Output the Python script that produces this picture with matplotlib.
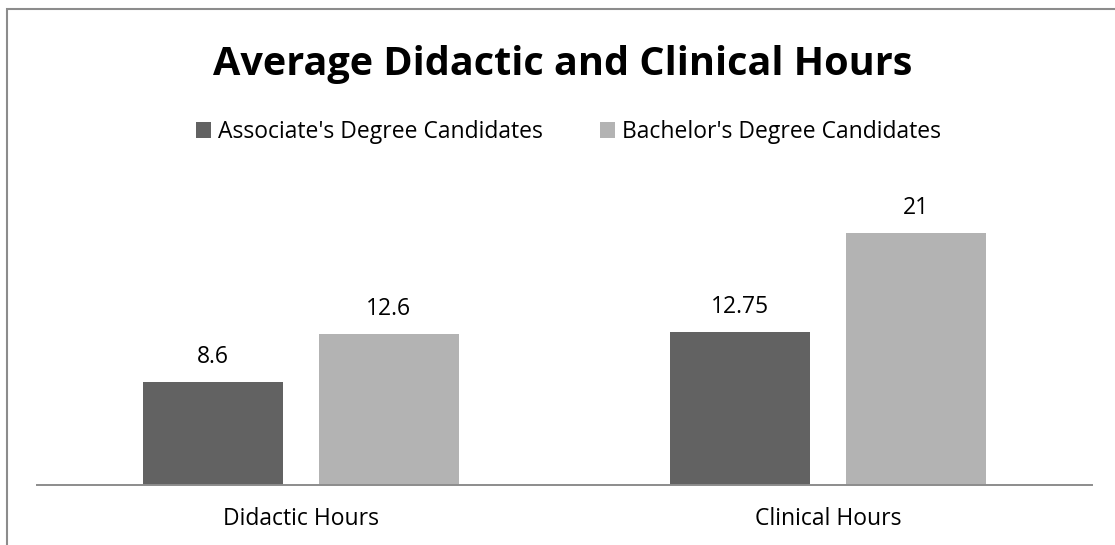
import matplotlib.pyplot as plt
import matplotlib.patches as patches
import numpy as np

# datos del grafico
categorias = ["Didactic Hours", "Clinical Hours"]
asociado = [8.6, 12.75]
bachiller = [12.6, 21]
etiquetas_asociado = ["8.6", "12.75"]
etiquetas_bachiller = ["12.6", "21"]
series = ["Associate's Degree Candidates", "Bachelor's Degree Candidates"]

plt.rcParams['font.family'] = ['Open Sans', 'DejaVu Sans']

fig = plt.figure(figsize=(11.15, 5.45), dpi=100)
ax = fig.add_axes([37 / 1115, 60 / 545, 1055 / 1115, 300 / 545])

x = np.arange(len(categorias))
ancho = 0.265
sep = 0.167
b1 = ax.bar(x - sep, asociado, ancho, color='#626262', label=series[0])
b2 = ax.bar(x + sep, bachiller, ancho, color='#b3b3b3', label=series[1])

# etiquetas de valor
for barras, textos in [(b1, etiquetas_asociado), (b2, etiquetas_bachiller)]:
    for b, t in zip(barras, textos):
        ax.annotate(t, (b.get_x() + b.get_width() / 2, b.get_height()),
                    xytext=(0, 13), textcoords='offset pixels',
                    ha='center', va='bottom', fontsize=16.5, color='black')

ax.set_xlim(-0.5, 1.5)
ax.set_ylim(0, 25)
ax.set_xticks(x)
ax.set_xticklabels(categorias, fontsize=16.5)
ax.tick_params(axis='x', length=0, pad=16)
ax.set_yticks([])
for s in ['top', 'right', 'left']:
    ax.spines[s].set_visible(False)
ax.spines['bottom'].set_color('#8c8c8c')
ax.spines['bottom'].set_linewidth(1.4)

fig.text(0.505, 1 - 64 / 545, "Average Didactic and Clinical Hours",
         ha='center', va='center', fontsize=28.5, fontweight='bold')

fig.legend(handles=[b1, b2], loc='center', bbox_to_anchor=(0.51, 1 - 132 / 545),
           ncol=2, frameon=False, fontsize=16.5, handlelength=0.65,
           handleheight=0.65, handletextpad=0.3, columnspacing=2.5)

# marco gris del grafico
marco = patches.Rectangle((7 / 1115, -0.1), 1.2, 1.1 - 9 / 545,
                          transform=fig.transFigure, fill=False,
                          edgecolor='#8c8c8c', linewidth=1.5)
fig.patches.append(marco)

plt.savefig("out.png", dpi=100)
